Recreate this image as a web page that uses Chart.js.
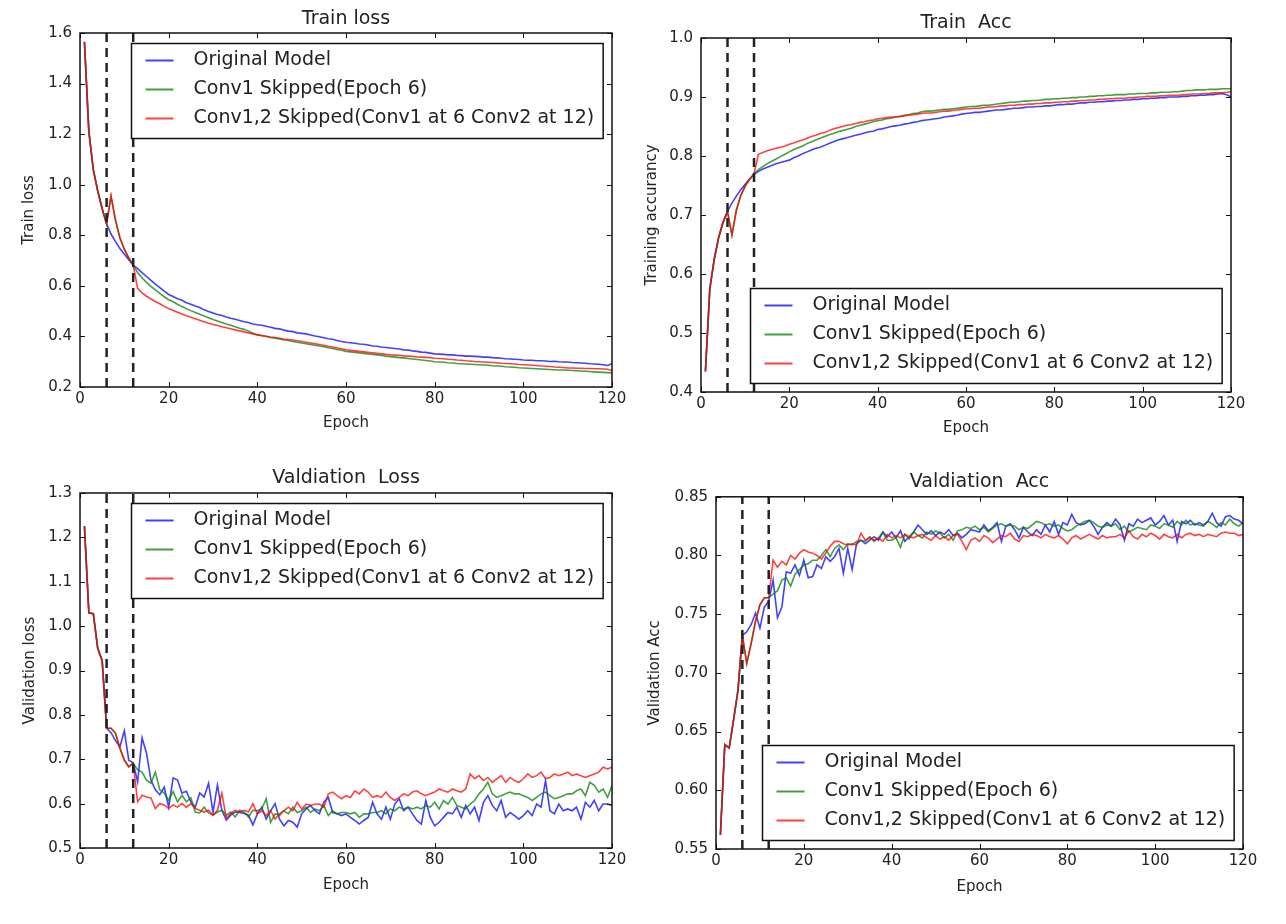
<!DOCTYPE html>
<html lang="en">
<head>
  <meta charset="UTF-8">
  <title>Skipped conv layers - training curves</title>
  <style>
    body {
      margin: 0;
      background-color: #fff;
      width: 1286px;
      height: 924px;
      position: relative;
      overflow: hidden;
    }
    canvas {
      position: absolute;
    }
    #trainLoss { left: 0; top: 0; }
    #trainAcc { left: 640px; top: 0; }
    #valLoss { left: 0; top: 460px; }
    #valAcc { left: 640px; top: 460px; }
  </style>
</head>
<body>

  <canvas id="trainLoss" width="640" height="450"></canvas>
  <canvas id="trainAcc" width="646" height="450"></canvas>
  <canvas id="valLoss" width="640" height="464"></canvas>
  <canvas id="valAcc" width="646" height="464"></canvas>

  <script src="https://cdn.jsdelivr.net/npm/chart.js"></script>
  <script>
    const epochs = [1, 2, 3, 4, 5, 6, 7, 8, 9, 10, 11, 12, 13, 14, 15, 16, 17, 18, 19, 20,
      21, 22, 23, 24, 25, 26, 27, 28, 29, 30, 31, 32, 33, 34, 35, 36, 37, 38, 39, 40,
      41, 42, 43, 44, 45, 46, 47, 48, 49, 50, 51, 52, 53, 54, 55, 56, 57, 58, 59, 60,
      61, 62, 63, 64, 65, 66, 67, 68, 69, 70, 71, 72, 73, 74, 75, 76, 77, 78, 79, 80,
      81, 82, 83, 84, 85, 86, 87, 88, 89, 90, 91, 92, 93, 94, 95, 96, 97, 98, 99, 100,
      101, 102, 103, 104, 105, 106, 107, 108, 109, 110, 111, 112, 113, 114, 115, 116, 117, 118, 119, 120];

    const seriesLabels = ['Original Model', 'Conv1 Skipped(Epoch 6)', 'Conv1,2 Skipped(Conv1 at 6 Conv2 at 12)'];
    const skipEpochs = [6, 12];

    const epochTicks = [0, 20, 40, 60, 80, 100, 120];
    const trainLossTicks = [0.2, 0.4, 0.6, 0.8, 1.0, 1.2, 1.4, 1.6];
    const trainAccTicks = [0.4, 0.5, 0.6, 0.7, 0.8, 0.9, 1.0];
    const valLossTicks = [0.5, 0.6, 0.7, 0.8, 0.9, 1.0, 1.1, 1.2, 1.3];
    const valAccTicks = [0.55, 0.60, 0.65, 0.70, 0.75, 0.80, 0.85];

    // Train loss
    const trainLossOrig = [1.565, 1.21, 1.06, 0.975, 0.905, 0.845, 0.805, 0.775, 0.748, 0.725, 0.703, 0.682,
      0.668, 0.652, 0.637, 0.622, 0.607, 0.593, 0.579, 0.566,
      0.558, 0.549, 0.543, 0.533, 0.527, 0.520, 0.514, 0.505, 0.499, 0.493,
      0.487, 0.483, 0.477, 0.472, 0.468, 0.463, 0.458, 0.455, 0.449, 0.446,
      0.444, 0.440, 0.436, 0.432, 0.430, 0.425, 0.421, 0.419, 0.414, 0.412,
      0.410, 0.406, 0.402, 0.399, 0.395, 0.391, 0.389, 0.384, 0.380, 0.377,
      0.375, 0.373, 0.370, 0.369, 0.366, 0.362, 0.361, 0.358, 0.356, 0.354,
      0.352, 0.350, 0.347, 0.346, 0.343, 0.341, 0.338, 0.337, 0.334, 0.331,
      0.330, 0.329, 0.327, 0.327, 0.325, 0.324, 0.322, 0.322, 0.321, 0.320,
      0.318, 0.318, 0.316, 0.315, 0.314, 0.312, 0.311, 0.310, 0.309, 0.307,
      0.306, 0.306, 0.304, 0.304, 0.303, 0.301, 0.302, 0.300, 0.299, 0.299,
      0.297, 0.296, 0.295, 0.294, 0.292, 0.291, 0.290, 0.288, 0.285, 0.292];
    const trainLossSkip1 = [1.565, 1.21, 1.06, 0.975, 0.905, 0.845, 0.955, 0.86, 0.79, 0.745, 0.71, 0.682,
      0.652, 0.632, 0.614, 0.598, 0.584, 0.570, 0.557, 0.545,
      0.537, 0.527, 0.518, 0.510, 0.502, 0.495, 0.488, 0.481, 0.474, 0.467,
      0.461, 0.455, 0.449, 0.444, 0.438, 0.432, 0.428, 0.421, 0.413, 0.407,
      0.404, 0.400, 0.396, 0.393, 0.390, 0.386, 0.384, 0.380, 0.377, 0.374,
      0.371, 0.368, 0.365, 0.362, 0.359, 0.355, 0.352, 0.348, 0.345, 0.341,
      0.339, 0.337, 0.335, 0.333, 0.331, 0.329, 0.327, 0.325, 0.322, 0.320,
      0.318, 0.316, 0.315, 0.313, 0.311, 0.309, 0.307, 0.305, 0.303, 0.300,
      0.299, 0.298, 0.296, 0.295, 0.293, 0.292, 0.291, 0.290, 0.289, 0.288,
      0.287, 0.286, 0.284, 0.283, 0.282, 0.280, 0.279, 0.278, 0.276, 0.275,
      0.274, 0.273, 0.272, 0.271, 0.270, 0.269, 0.268, 0.267, 0.267, 0.266,
      0.265, 0.264, 0.263, 0.262, 0.261, 0.260, 0.259, 0.258, 0.257, 0.256];
    const trainLossSkip12 = [1.565, 1.21, 1.06, 0.975, 0.905, 0.845, 0.955, 0.86, 0.79, 0.745, 0.71, 0.682,
      0.59, 0.572, 0.559, 0.548, 0.538, 0.529, 0.519, 0.51,
      0.503, 0.496, 0.489, 0.482, 0.476, 0.470, 0.464, 0.458, 0.452, 0.447,
      0.443, 0.438, 0.434, 0.430, 0.426, 0.422, 0.418, 0.414, 0.410, 0.406,
      0.403, 0.401, 0.398, 0.396, 0.393, 0.390, 0.388, 0.386, 0.383, 0.380,
      0.377, 0.374, 0.371, 0.368, 0.365, 0.361, 0.358, 0.354, 0.351, 0.347,
      0.345, 0.343, 0.341, 0.339, 0.337, 0.335, 0.333, 0.331, 0.329, 0.327,
      0.326, 0.325, 0.323, 0.322, 0.321, 0.319, 0.318, 0.317, 0.316, 0.314,
      0.313, 0.312, 0.310, 0.309, 0.307, 0.306, 0.304, 0.303, 0.301, 0.300,
      0.299, 0.298, 0.297, 0.296, 0.294, 0.293, 0.292, 0.291, 0.289, 0.288,
      0.287, 0.286, 0.285, 0.283, 0.282, 0.281, 0.279, 0.278, 0.277, 0.275,
      0.275, 0.274, 0.274, 0.273, 0.273, 0.272, 0.272, 0.271, 0.270, 0.265];

    // Train accuracy
    const trainAccOrig = [0.435, 0.575, 0.625, 0.662, 0.688, 0.706, 0.72, 0.732, 0.743, 0.752, 0.761, 0.769,
      0.774, 0.778, 0.781, 0.784, 0.787, 0.789, 0.791, 0.793,
      0.797, 0.800, 0.804, 0.807, 0.810, 0.813, 0.815, 0.818, 0.821, 0.824,
      0.827, 0.829, 0.831, 0.833, 0.835, 0.837, 0.839, 0.841, 0.842, 0.845,
      0.846, 0.848, 0.850, 0.851, 0.852, 0.854, 0.855, 0.857, 0.858, 0.860,
      0.861, 0.862, 0.863, 0.864, 0.866, 0.867, 0.868, 0.869, 0.871, 0.872,
      0.873, 0.874, 0.874, 0.875, 0.876, 0.877, 0.878, 0.878, 0.879, 0.880,
      0.881, 0.881, 0.882, 0.883, 0.883, 0.884, 0.884, 0.885, 0.885, 0.886,
      0.887, 0.887, 0.888, 0.888, 0.889, 0.890, 0.890, 0.891, 0.891, 0.892,
      0.892, 0.893, 0.893, 0.894, 0.894, 0.895, 0.895, 0.896, 0.896, 0.897,
      0.897, 0.898, 0.898, 0.899, 0.899, 0.900, 0.900, 0.900, 0.901, 0.901,
      0.902, 0.902, 0.903, 0.903, 0.904, 0.904, 0.905, 0.906, 0.904, 0.900];
    const trainAccSkip1 = [0.435, 0.575, 0.625, 0.662, 0.688, 0.706, 0.666, 0.708, 0.733, 0.749, 0.76, 0.77,
      0.777, 0.782, 0.787, 0.791, 0.795, 0.799, 0.803, 0.807,
      0.811, 0.814, 0.817, 0.821, 0.824, 0.827, 0.830, 0.833, 0.836, 0.838,
      0.841, 0.843, 0.845, 0.847, 0.850, 0.852, 0.854, 0.856, 0.858, 0.860,
      0.861, 0.863, 0.864, 0.866, 0.867, 0.869, 0.870, 0.872, 0.873, 0.875,
      0.876, 0.876, 0.877, 0.878, 0.879, 0.879, 0.880, 0.881, 0.882, 0.883,
      0.884, 0.884, 0.885, 0.886, 0.886, 0.887, 0.888, 0.889, 0.890, 0.891,
      0.891, 0.892, 0.893, 0.893, 0.894, 0.894, 0.895, 0.896, 0.896, 0.897,
      0.897, 0.898, 0.898, 0.899, 0.899, 0.900, 0.900, 0.901, 0.901, 0.902,
      0.902, 0.903, 0.903, 0.904, 0.904, 0.904, 0.905, 0.905, 0.906, 0.906,
      0.906, 0.907, 0.907, 0.908, 0.908, 0.908, 0.909, 0.909, 0.910, 0.911,
      0.911, 0.912, 0.912, 0.912, 0.913, 0.913, 0.913, 0.914, 0.914, 0.914];
    const trainAccSkip12 = [0.435, 0.575, 0.625, 0.662, 0.688, 0.706, 0.666, 0.708, 0.733, 0.749, 0.76, 0.77,
      0.803, 0.806, 0.809, 0.811, 0.813, 0.815, 0.817, 0.82,
      0.822, 0.825, 0.827, 0.830, 0.833, 0.835, 0.838, 0.840, 0.843, 0.846,
      0.848, 0.850, 0.852, 0.853, 0.855, 0.857, 0.858, 0.860, 0.861, 0.863,
      0.864, 0.865, 0.866, 0.866, 0.867, 0.868, 0.869, 0.870, 0.871, 0.872,
      0.873, 0.873, 0.874, 0.875, 0.876, 0.876, 0.877, 0.878, 0.879, 0.880,
      0.880, 0.881, 0.881, 0.882, 0.883, 0.883, 0.884, 0.885, 0.885, 0.886,
      0.886, 0.887, 0.887, 0.888, 0.888, 0.889, 0.889, 0.890, 0.890, 0.891,
      0.891, 0.892, 0.892, 0.893, 0.893, 0.894, 0.894, 0.895, 0.895, 0.896,
      0.896, 0.897, 0.897, 0.898, 0.898, 0.898, 0.899, 0.899, 0.900, 0.900,
      0.901, 0.901, 0.901, 0.902, 0.902, 0.903, 0.903, 0.903, 0.904, 0.904,
      0.905, 0.905, 0.905, 0.906, 0.906, 0.907, 0.907, 0.907, 0.908, 0.909];

    // Validation loss
    const valLossOrig = [1.225, 1.03, 1.028, 0.95, 0.922, 0.77, 0.76, 0.742, 0.728, 0.764, 0.698, 0.692,
      0.649, 0.748, 0.714, 0.653, 0.631, 0.62, 0.637, 0.592,
      0.658, 0.653, 0.624, 0.628, 0.604, 0.592, 0.624, 0.615, 0.646, 0.581,
      0.642, 0.585, 0.563, 0.574, 0.581, 0.58, 0.578, 0.574, 0.552, 0.577,
      0.592, 0.565, 0.584, 0.6, 0.565, 0.55, 0.562, 0.558, 0.547, 0.577,
      0.588, 0.596, 0.584, 0.577, 0.603, 0.614, 0.58, 0.577, 0.573, 0.577,
      0.569, 0.562, 0.554, 0.562, 0.569, 0.603, 0.577, 0.565, 0.592, 0.565,
      0.599, 0.611, 0.584, 0.592, 0.577, 0.562, 0.554, 0.607, 0.569, 0.55,
      0.558, 0.569, 0.58, 0.577, 0.592, 0.569, 0.596, 0.577, 0.592, 0.562,
      0.603, 0.618, 0.596, 0.584, 0.607, 0.569, 0.58, 0.573, 0.565, 0.573,
      0.584, 0.573, 0.599, 0.592, 0.652, 0.584, 0.577, 0.599, 0.584, 0.588,
      0.584, 0.592, 0.565, 0.603, 0.592, 0.607, 0.584, 0.599, 0.599, 0.596];
    const valLossSkip1 = [1.225, 1.03, 1.028, 0.95, 0.922, 0.77, 0.77, 0.759, 0.725, 0.698, 0.683, 0.691,
      0.676, 0.671, 0.653, 0.646, 0.671, 0.631, 0.624, 0.608,
      0.627, 0.604, 0.619, 0.604, 0.613, 0.581, 0.579, 0.592, 0.579, 0.574,
      0.581, 0.585, 0.574, 0.581, 0.57, 0.585, 0.581, 0.57, 0.585, 0.584,
      0.588, 0.611, 0.558, 0.577, 0.573, 0.584, 0.577, 0.592, 0.58, 0.584,
      0.592, 0.58, 0.588, 0.584, 0.596, 0.573, 0.584, 0.577, 0.58, 0.58,
      0.577, 0.58, 0.569, 0.577, 0.577, 0.58, 0.58, 0.584, 0.577, 0.588,
      0.584, 0.592, 0.588, 0.592, 0.588, 0.592, 0.588, 0.596, 0.592, 0.603,
      0.588, 0.607, 0.599, 0.614, 0.596, 0.592, 0.588, 0.599, 0.607, 0.622,
      0.633, 0.648, 0.622, 0.614, 0.618, 0.622, 0.626, 0.622, 0.622, 0.618,
      0.614, 0.607, 0.614, 0.622, 0.626, 0.618, 0.611, 0.614, 0.618, 0.622,
      0.622, 0.629, 0.633, 0.618, 0.648, 0.641, 0.626, 0.633, 0.614, 0.641];
    const valLossSkip12 = [1.225, 1.03, 1.028, 0.95, 0.922, 0.77, 0.77, 0.759, 0.725, 0.698, 0.683, 0.691,
      0.604, 0.619, 0.615, 0.613, 0.589, 0.6, 0.597, 0.589,
      0.597, 0.592, 0.6, 0.592, 0.6, 0.589, 0.585, 0.581, 0.585, 0.574,
      0.585, 0.624, 0.567, 0.578, 0.585, 0.581, 0.585, 0.581, 0.6, 0.577,
      0.584, 0.573, 0.584, 0.565, 0.577, 0.584, 0.592, 0.584, 0.603, 0.588,
      0.599, 0.596, 0.599, 0.599, 0.592, 0.622, 0.626, 0.618, 0.611, 0.618,
      0.614, 0.629, 0.622, 0.633, 0.626, 0.614, 0.618, 0.614, 0.626, 0.614,
      0.607, 0.614, 0.622, 0.618, 0.626, 0.629, 0.622, 0.618, 0.622, 0.626,
      0.633, 0.629, 0.626, 0.633, 0.629, 0.626, 0.633, 0.667, 0.656, 0.663,
      0.652, 0.659, 0.648, 0.656, 0.663, 0.648, 0.659, 0.652, 0.648, 0.656,
      0.667, 0.659, 0.663, 0.671, 0.656, 0.659, 0.667, 0.663, 0.667, 0.671,
      0.663, 0.667, 0.663, 0.659, 0.663, 0.667, 0.671, 0.682, 0.678, 0.682];

    // Validation accuracy
    const valAccOrig = [0.562, 0.639, 0.636, 0.66, 0.685, 0.732, 0.735, 0.741, 0.751, 0.738, 0.756, 0.761,
      0.779, 0.747, 0.756, 0.786, 0.785, 0.792, 0.783, 0.796,
      0.781, 0.782, 0.792, 0.789, 0.799, 0.795, 0.799, 0.806, 0.785, 0.806,
      0.788, 0.81, 0.813, 0.81, 0.813, 0.816, 0.813, 0.82, 0.816, 0.82,
      0.815, 0.821, 0.812, 0.816, 0.82, 0.826, 0.822, 0.818, 0.821, 0.817,
      0.82, 0.818, 0.822, 0.817, 0.819, 0.815, 0.818, 0.822, 0.821, 0.82,
      0.826, 0.821, 0.824, 0.828, 0.812, 0.825, 0.827, 0.822, 0.815, 0.824,
      0.82, 0.817, 0.822, 0.818, 0.826, 0.82, 0.829, 0.818, 0.828, 0.826,
      0.835, 0.828, 0.826, 0.827, 0.83, 0.825, 0.818, 0.824, 0.828, 0.825,
      0.831, 0.826, 0.813, 0.827, 0.825, 0.831, 0.828, 0.83, 0.832, 0.826,
      0.829, 0.834, 0.826, 0.83, 0.812, 0.829, 0.827, 0.83, 0.826, 0.828,
      0.826, 0.829, 0.836, 0.828, 0.825, 0.833, 0.834, 0.831, 0.83, 0.827];
    const valAccSkip1 = [0.562, 0.639, 0.636, 0.66, 0.685, 0.732, 0.708, 0.725, 0.744, 0.758, 0.764, 0.764,
      0.767, 0.77, 0.779, 0.781, 0.774, 0.784, 0.788, 0.792,
      0.793, 0.796, 0.796, 0.8, 0.805, 0.799, 0.806, 0.809, 0.805, 0.81,
      0.809, 0.812, 0.813, 0.812, 0.816, 0.812, 0.815, 0.82, 0.813, 0.813,
      0.815, 0.807, 0.818, 0.814, 0.82, 0.817, 0.815, 0.82, 0.818, 0.821,
      0.819, 0.815, 0.818, 0.813, 0.821, 0.822, 0.824, 0.823, 0.825, 0.822,
      0.824, 0.82, 0.823, 0.826, 0.827, 0.825, 0.826, 0.825, 0.822, 0.824,
      0.823, 0.826, 0.829, 0.828, 0.826, 0.827, 0.825, 0.826, 0.823, 0.821,
      0.822, 0.825, 0.827, 0.829, 0.83, 0.828, 0.825, 0.824, 0.826, 0.825,
      0.827, 0.822, 0.825, 0.82, 0.822, 0.824, 0.823, 0.822, 0.826, 0.825,
      0.823, 0.827, 0.826, 0.824, 0.829, 0.826, 0.83, 0.826, 0.827, 0.826,
      0.825, 0.829, 0.827, 0.824, 0.828, 0.826, 0.831, 0.827, 0.825, 0.828];
    const valAccSkip12 = [0.562, 0.639, 0.636, 0.66, 0.685, 0.732, 0.708, 0.725, 0.744, 0.758, 0.764, 0.764,
      0.796, 0.79, 0.795, 0.792, 0.8, 0.797, 0.802, 0.805,
      0.803, 0.802, 0.8, 0.797, 0.802, 0.808, 0.812, 0.812, 0.81, 0.809,
      0.81, 0.809, 0.819, 0.813, 0.815, 0.813, 0.815, 0.812, 0.818, 0.815,
      0.817, 0.815, 0.818, 0.816, 0.815, 0.817, 0.818, 0.815, 0.813, 0.817,
      0.814, 0.816, 0.813, 0.817, 0.818, 0.812, 0.805, 0.813, 0.815, 0.812,
      0.817, 0.815, 0.811, 0.814, 0.817, 0.816, 0.819, 0.814, 0.812, 0.817,
      0.816, 0.818, 0.817, 0.815, 0.818, 0.816, 0.815, 0.817, 0.814, 0.81,
      0.815, 0.817, 0.814, 0.816, 0.818, 0.816, 0.814, 0.817, 0.815, 0.816,
      0.816, 0.818, 0.815, 0.821, 0.816, 0.814, 0.818, 0.816, 0.819, 0.817,
      0.814, 0.818, 0.816, 0.815, 0.818, 0.815, 0.818, 0.819, 0.817, 0.818,
      0.816, 0.818, 0.817, 0.816, 0.819, 0.82, 0.819, 0.819, 0.817, 0.818];

    const lineColors = ['rgba(0, 0, 255, 0.75)', 'rgba(0, 128, 0, 0.75)', 'rgba(255, 0, 0, 0.75)'];
    const textColor = '#222';
    const fontFamily = "'DejaVu Sans', sans-serif";

    Chart.defaults.font.family = fontFamily;
    Chart.defaults.color = textColor;

    // box around the axes, inward ticks on all sides, and the boxed legend inside
    const frameLegend = {
      id: 'frameLegend',
      afterDatasetsDraw(chart, args, opts) {
        const { ctx, chartArea: a, scales: { x, y } } = chart;
        ctx.save();
        ctx.strokeStyle = '#111';
        ctx.lineWidth = 1;
        ctx.beginPath();
        x.ticks.forEach(t => {
          const p = Math.round(x.getPixelForValue(t.value)) + 0.5;
          ctx.moveTo(p, a.bottom); ctx.lineTo(p, a.bottom - 5);
          ctx.moveTo(p, a.top); ctx.lineTo(p, a.top + 5);
        });
        y.ticks.forEach(t => {
          const p = Math.round(y.getPixelForValue(t.value)) + 0.5;
          ctx.moveTo(a.left, p); ctx.lineTo(a.left + 5, p);
          ctx.moveTo(a.right, p); ctx.lineTo(a.right - 5, p);
        });
        ctx.stroke();
        ctx.lineWidth = 1.5;
        ctx.strokeRect(a.left, a.top, a.right - a.left, a.bottom - a.top);

        const items = chart.data.datasets.filter(d => d.label);
        ctx.font = '19px ' + fontFamily;
        const textW = Math.max(...items.map(d => ctx.measureText(d.label).width));
        const w = 14 + 28 + 20 + textW + 9;
        const h = 95;
        const bx = Math.round(a.right - 9 - w) + 0.5;
        const by = Math.round(opts.corner === 'top' ? a.top + 10 : a.bottom - 9 - h) + 0.5;
        ctx.fillStyle = '#fff';
        ctx.fillRect(bx, by, w, h);
        ctx.strokeRect(bx, by, w, h);
        items.forEach((d, i) => {
          const ly = by + 17 + i * 29;
          ctx.strokeStyle = d.borderColor;
          ctx.lineWidth = 2;
          ctx.beginPath();
          ctx.moveTo(bx + 14, ly);
          ctx.lineTo(bx + 42, ly);
          ctx.stroke();
          ctx.fillStyle = textColor;
          ctx.textBaseline = 'middle';
          ctx.textAlign = 'left';
          ctx.fillText(d.label, bx + 62, ly);
        });
        ctx.restore();
      }
    };

    function skipLines(ticks) {
      return skipEpochs.map(e => ({
        data: [{ x: e, y: ticks[0] }, { x: e, y: ticks[ticks.length - 1] }],
        borderColor: '#222',
        borderWidth: 2.5,
        borderDash: [9, 6],
        pointRadius: 0,
        order: 0
      }));
    }

    function makeChart(id, cfg) {
      const datasets = cfg.series.map((s, i) => ({
        label: seriesLabels[i],
        data: s,
        borderColor: lineColors[i],
        borderWidth: 1.6,
        pointRadius: 0,
        tension: 0,
        order: 3 - i
      }));
      return new Chart(document.getElementById(id), {
        type: 'line',
        data: { labels: epochs, datasets: datasets.concat(skipLines(cfg.yTicks)) },
        options: {
          responsive: false,
          animation: false,
          events: [],
          layout: { padding: { right: cfg.padRight } },
          plugins: {
            legend: { display: false },
            tooltip: { enabled: false },
            title: {
              display: true,
              text: cfg.title,
              fullSize: false,
              color: textColor,
              font: { size: 19, weight: 'normal' },
              padding: { top: cfg.titleTop, bottom: cfg.titleBottom }
            },
            frameLegend: { corner: cfg.legendCorner }
          },
          scales: {
            x: {
              type: 'linear',
              min: 0,
              max: 120,
              afterBuildTicks: s => { s.ticks = epochTicks.map(v => ({ value: v })); },
              afterFit: s => { s.height = cfg.xHeight; },
              grid: { display: false, drawTicks: false },
              border: { display: false },
              ticks: { font: { size: 15 }, padding: 3, maxRotation: 0, autoSkip: false },
              title: { display: true, text: 'Epoch', font: { size: 15 }, padding: { top: 0, bottom: cfg.xTitleBottom } }
            },
            y: {
              min: cfg.yTicks[0],
              max: cfg.yTicks[cfg.yTicks.length - 1],
              afterBuildTicks: s => { s.ticks = cfg.yTicks.map(v => ({ value: v })); },
              afterFit: s => { s.width = cfg.yWidth; },
              grid: { display: false, drawTicks: false },
              border: { display: false },
              ticks: { font: { size: 15 }, padding: 8, callback: v => v.toFixed(cfg.decimals) },
              title: { display: true, text: cfg.yTitle, font: { size: 15 }, padding: { top: cfg.yTitleTop, bottom: 0 } }
            }
          }
        },
        plugins: [frameLegend]
      });
    }

    makeChart('trainLoss', {
      title: 'Train loss', yTitle: 'Train loss',
      series: [trainLossOrig, trainLossSkip1, trainLossSkip12],
      yTicks: trainLossTicks, decimals: 1, legendCorner: 'top',
      yWidth: 80, padRight: 28, xHeight: 63, titleTop: 8, titleBottom: 2.2, xTitleBottom: 18, yTitleTop: 20
    });

    makeChart('trainAcc', {
      title: 'Train  Acc', yTitle: 'Training accurancy',
      series: [trainAccOrig, trainAccSkip1, trainAccSkip12],
      yTicks: trainAccTicks, decimals: 1, legendCorner: 'bottom',
      yWidth: 61, padRight: 55, xHeight: 58, titleTop: 12, titleBottom: 3.2, xTitleBottom: 13, yTitleTop: 3
    });

    makeChart('valLoss', {
      title: 'Valdiation  Loss', yTitle: 'Validation loss',
      series: [valLossOrig, valLossSkip1, valLossSkip12],
      yTicks: valLossTicks, decimals: 1, legendCorner: 'top',
      yWidth: 80, padRight: 28, xHeight: 76, titleTop: 7, titleBottom: 3.2, xTitleBottom: 30, yTitleTop: 21
    });

    makeChart('valAcc', {
      title: 'Valdiation  Acc', yTitle: 'Validation Acc',
      series: [valAccOrig, valAccSkip1, valAccSkip12],
      yTicks: valAccTicks, decimals: 2, legendCorner: 'bottom',
      yWidth: 76, padRight: 43, xHeight: 75, titleTop: 11, titleBottom: 3, xTitleBottom: 28, yTitleTop: 6
    });
  </script>

</body>
</html>
